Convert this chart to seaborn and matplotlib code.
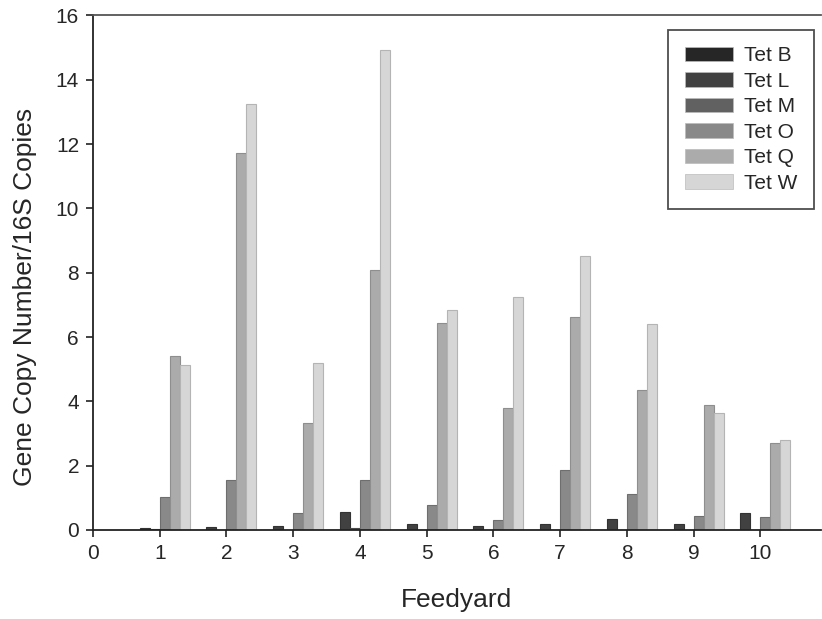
import matplotlib
matplotlib.use("Agg")
import matplotlib.pyplot as plt
import seaborn as sns
import pandas as pd

feedyards = [1, 2, 3, 4, 5, 6, 7, 8, 9, 10]
genes = ["Tet B", "Tet L", "Tet M", "Tet O", "Tet Q", "Tet W"]
tet_b = [0, 0, 0, 0, 0, 0, 0, 0, 0, 0]
tet_l = [0.07, 0.10, 0.13, 0.55, 0.20, 0.11, 0.19, 0.34, 0.20, 0.54]
tet_m = [0.02, 0.0, 0.0, 0.05, 0.0, 0.0, 0.0, 0.0, 0.0, 0.0]
tet_o = [1.02, 1.54, 0.54, 1.55, 0.77, 0.32, 1.85, 1.13, 0.43, 0.40]
tet_q = [5.40, 11.72, 3.33, 8.10, 6.43, 3.80, 6.63, 4.36, 3.89, 2.69]
tet_w = [5.13, 13.25, 5.20, 14.92, 6.85, 7.25, 8.53, 6.41, 3.63, 2.79]

colors = ["#262626", "#414141", "#616161", "#898989", "#ababab", "#d6d6d6"]
edges = ["#1a1a1a", "#333333", "#4a4a4a", "#6e6e6e", "#8e8e8e", "#b4b4b4"]

series = [tet_b, tet_l, tet_m, tet_o, tet_q, tet_w]
rows = []
for g, vals in zip(genes, series):
    for f, v in zip(feedyards, vals):
        rows.append({"Feedyard": f, "Gene": g, "Value": v})
df = pd.DataFrame(rows)

sns.set_style("white")
plt.rcParams["font.family"] = ["Liberation Sans", "DejaVu Sans"]

fig = plt.figure(figsize=(8.22, 6.19), dpi=100)
ax = fig.add_axes([0.1131, 0.1438, 0.8857, 0.8312])

sns.barplot(data=df, x="Feedyard", y="Value", hue="Gene", hue_order=genes,
            palette=colors, native_scale=True, width=0.9, ax=ax,
            errorbar=None, saturation=1, linewidth=0.8, edgecolor="#555555")

for cont, ec in zip(ax.containers, edges):
    for p in cont:
        p.set_edgecolor(ec)

ax.set_xlim(0, 10.91)
ax.set_ylim(0, 16)
ax.set_xticks(range(0, 11))
ax.set_xticklabels([str(i) for i in range(0, 11)])
ax.set_yticks(range(0, 17, 2))

for s in ["left", "bottom", "top"]:
    ax.spines[s].set_visible(True)
    ax.spines[s].set_color("#222222")
    ax.spines[s].set_linewidth(1.3)
ax.spines["top"].set_color("#555555")
ax.spines["right"].set_visible(False)

ax.tick_params(axis="both", which="major", direction="out", length=5,
               width=1.2, color="#222222", labelsize=15, pad=5,
               left=True, bottom=True)

ax.set_xlabel("Feedyard", fontsize=19, labelpad=18)
ax.set_ylabel("Gene Copy Number/16S Copies", fontsize=19)
ax.yaxis.set_label_coords(-0.077, 0.453)

leg = ax.legend(loc="upper right", bbox_to_anchor=(0.9898, 0.9715),
                fontsize=15, frameon=True, fancybox=False,
                edgecolor="#222222", handlelength=2.3, handleheight=0.7,
                labelspacing=0.31, handletextpad=0.55, borderpad=0.78,
                borderaxespad=0)
leg.get_frame().set_linewidth(1.3)
for h in leg.legend_handles:
    h.set_edgecolor("#bbbbbb")
    h.set_linewidth(0.5)

fig.savefig("out.png", dpi=100)
